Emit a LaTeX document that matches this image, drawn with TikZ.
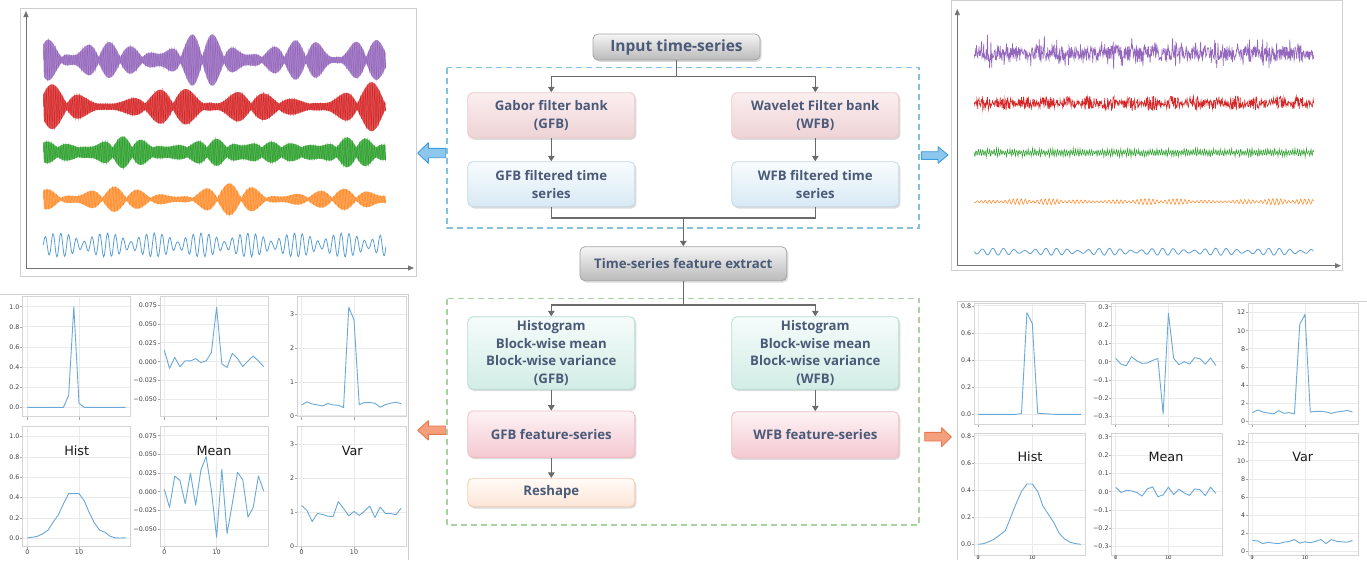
\documentclass[tikz,border=0pt]{standalone}
\usepackage{fontspec}
\setmainfont{Open Sans}
\newfontfamily\tickfont{DejaVu Sans}
\usetikzlibrary{arrows.meta,shadows}
\definecolor{txt}{HTML}{4A5A78}
\definecolor{connc}{HTML}{6A6A6A}
\definecolor{tpurple}{HTML}{9467BD}
\definecolor{tred}{HTML}{D62728}
\definecolor{tgreen}{HTML}{2CA02C}
\definecolor{torange}{HTML}{FF8C2A}
\definecolor{tblue}{HTML}{5A9FD4}
\definecolor{dlinec}{HTML}{6AA8D8}
\definecolor{gridc}{HTML}{EAEAEA}
\definecolor{framec}{HTML}{D4D4D4}
\definecolor{panelc}{HTML}{CFCFCF}
\definecolor{axisc}{HTML}{747474}
\definecolor{dashblue}{HTML}{86C1DB}
\definecolor{dashgreen}{HTML}{A9D4A2}
\definecolor{barrowfill}{HTML}{8EC7EE}
\definecolor{barrowdraw}{HTML}{3D9CDB}
\definecolor{oarrowfill}{HTML}{F5A07C}
\definecolor{oarrowdraw}{HTML}{E8764A}
\newcommand\splot[9]{%
  \draw[grid] (#5,#2) -- (#5,#4);
  \draw[grid] ({#5+10*#6},#2) -- ({#5+10*#6},#4);
  \draw[tickm] (#5,#4) -- ++(0,3);
  \draw[tickm] ({#5+10*#6},#4) -- ++(0,3);
  \foreach \v/\l in {#9}{
    \draw[grid] (#1,{#7-(\v)*#8}) -- (#3,{#7-(\v)*#8});
    \draw[tickm] (#1,{#7-(\v)*#8}) -- ++(-2.5,0);
    \node[tlab, anchor=east] at (#1-3,{#7-(\v)*#8}) {\l};
  }
  \draw[frame] (#1,#2) rectangle (#3,#4);
  \gdef\cX{#5}\gdef\cS{#6}\gdef\cY{#7}\gdef\cT{#8}%
}
\newcommand\sline[1]{\begin{scope}[shift={(\cX,\cY)},x=\cS pt,y=\cT pt]\draw[dline] plot coordinates {#1};\end{scope}}
% modulated wave: #1 colour, #2 centre y, #3 envelope expression in \t, #4 carrier cycles
\newcommand\modwave[4]{%
  \fill[#1!78] plot[domain=0:1, samples=400, variable=\t] ({43.3+342.7*\t},{#2-#3})
     -- plot[domain=1:0, samples=400, variable=\t] ({43.3+342.7*\t},{#2+#3}) -- cycle;
  \draw[#1, line width=0.5pt] plot[domain=0:1, samples=1400, variable=\t]
     ({43.3+342.7*\t},{#2-#3*sin(360*frac(#4*\t))});
}
\begin{document}
\begin{tikzpicture}[x=1pt,y=-1pt,
  box/.style={rounded corners=5pt, line width=0.8pt, align=center, text=txt,
    font=\bfseries\fontsize{13.2}{17.8}\selectfont, minimum width=167pt, inner sep=0pt,
    drop shadow={opacity=0.28, shadow xshift=1.6pt, shadow yshift=-1.8pt}},
  greybox/.style={box, draw=black!35, top color=black!4, bottom color=black!27},
  pinkbox/.style={box, draw={rgb,255:red,235;green,200;blue,204}, top color={rgb,255:red,251;green,238;blue,239}, bottom color={rgb,255:red,238;green,211;blue,214}},
  bluebox/.style={box, draw={rgb,255:red,194;green,218;blue,233}, top color={rgb,255:red,248;green,252;blue,254}, bottom color={rgb,255:red,216;green,233;blue,244}},
  tealbox/.style={box, draw={rgb,255:red,180;green,220;blue,211}, top color={rgb,255:red,245;green,252;blue,250}, bottom color={rgb,255:red,210;green,237;blue,230}},
  rosebox/.style={box, draw={rgb,255:red,240;green,188;blue,198}, top color={rgb,255:red,253;green,243;blue,245}, bottom color={rgb,255:red,244;green,200;blue,209}},
  peachbox/.style={box, draw={rgb,255:red,246;green,205;blue,176}, top color={rgb,255:red,255;green,251;blue,247}, bottom color={rgb,255:red,252;green,229;blue,214}},
  conn/.style={draw=connc, line width=1.5pt},
  arr/.style={conn, -{Triangle[length=5.5pt,width=6.5pt]}},
  panel/.style={draw=panelc, line width=0.8pt},
  axisl/.style={draw=axisc, line width=1pt, -{Triangle[length=6pt,width=5pt]}},
  grid/.style={draw=gridc, line width=0.7pt},
  tickm/.style={draw=black!35, line width=0.5pt},
  frame/.style={draw=framec, line width=0.8pt},
  dline/.style={draw=dlinec, line width=0.9pt, line join=round},
  tlab/.style={font=\tickfont\fontsize{6.3}{7}\selectfont, text=black!75, inner sep=0pt},
  big/.style={font=\tickfont\fontsize{12.8}{14}\selectfont, text=black!90, inner sep=0pt},
  wave/.style={line width=0.55pt},
  barrow/.style={fill=barrowfill, draw=barrowdraw, line width=0.9pt, line join=round},
  oarrow/.style={fill=oarrowfill, draw=oarrowdraw, line width=0.9pt, line join=round}
]
\useasboundingbox (0,0) rectangle (1367,560);
\fill[white] (0,0) rectangle (1367,560);

% ---------- top-left panel ----------
\draw[panel] (20.7,8.3) rectangle (416,276);
\draw[axisl] (26,268) -- (26,11);
\draw[axisl] (26,268) -- (414,268);
\modwave{tpurple}{60}{(28*(0.1+0.9*abs(0.6*sin(2300*\t+15)+0.4*sin(3700*\t+80))*(0.75+0.25*sin(900*\t+40))))}{150}
\modwave{tred}{106.7}{(25*(0.12+0.88*abs(0.6*sin(1750*\t+40)+0.4*sin(2900*\t+10))*(0.65+0.35*sin(700*\t+120))))}{145}
\modwave{tgreen}{152.3}{(16*(0.3+0.7*abs(0.6*sin(2500*\t+60)+0.4*sin(4100*\t+30))*(0.7+0.3*sin(1100*\t+200))))}{140}
\modwave{torange}{199.3}{(16*(0.08+0.92*abs(0.6*sin(2100*\t+30)+0.4*sin(3300*\t+100))*(0.75+0.25*sin(800*\t))))}{110}
\draw[wave, tblue, line width=0.8pt] plot[domain=0:1, samples=500, smooth, variable=\t]
  ({43.3+342.7*\t}, {245 - 12*(0.25+0.75*abs(sin(1300*\t+30)))*sin(360*frac(44*\t))});

% ---------- top-right panel ----------
\draw[panel] (951.7,0.5) rectangle (1342,270.7);
\draw[axisl] (957.3,265.7) -- (957.3,9);
\draw[axisl] (957.3,265.7) -- (1341,265.7);
\pgfmathsetseed{7}
\draw[wave, tpurple, line width=0.65pt] plot[domain=0:1, samples=800, variable=\t]
  ({974.3+339.4*\t}, {53.3 + 7*rand + 18*rand*rand*rand});
\draw[wave, tred, line width=0.6pt] plot[domain=0:1, samples=800, variable=\t]
  ({974.3+339.4*\t}, {103.3 + (2.5+5*abs(sin(2900*\t+10)))*rand});
\draw[wave, tgreen] plot[domain=0:1, samples=800, variable=\t]
  ({974.3+339.4*\t}, {152.7 + (1+3.5*abs(rand))*sin(360*frac(150*\t))});
\draw[wave, torange] plot[domain=0:1, samples=600, variable=\t]
  ({974.3+339.4*\t}, {201.7 + (0.8+2.5*abs(sin(1900*\t+30))*abs(sin(500*\t)))*sin(360*frac(85*\t))});
\draw[wave, tblue, line width=0.8pt] plot[domain=0:1, samples=400, smooth, variable=\t]
  ({974.3+339.4*\t}, {251.7 + (1+2.5*abs(sin(1100*\t+20)))*sin(360*frac(32*\t))});

% ---------- dashed groups ----------
\draw[draw=dashblue, line width=1.4pt, dash pattern=on 6pt off 4pt] (447,67.7) rectangle (919,228);
\draw[draw=dashgreen, line width=1.4pt, dash pattern=on 6pt off 4pt] (447,298.7) rectangle (919,525);

% ---------- flowchart nodes ----------
\node[greybox, minimum width=167pt, minimum height=26pt, font=\bfseries\fontsize{15.5}{17}\selectfont] (inp) at (676.5,47) {Input time-series};
\node[pinkbox, minimum height=45.3pt] (gabor) at (551.3,115.3) {Gabor filter bank\\(GFB)};
\node[pinkbox, minimum height=45.3pt] (wave) at (815.3,115.3) {Wavelet Filter bank\\(WFB)};
\node[bluebox, minimum height=45pt] (gfbf) at (551.3,184.2) {GFB filtered time\\series};
\node[bluebox, minimum height=45pt] (wfbf) at (815.3,184.2) {WFB filtered time\\series};
\node[greybox, minimum width=206.7pt, minimum height=34pt] (tsfe) at (683.3,263.7) {Time-series feature extract};
\node[tealbox, minimum height=72.6pt] (histL) at (551.3,353) {Histogram\\Block-wise mean\\Block-wise variance\\(GFB)};
\node[tealbox, minimum height=72.6pt] (histR) at (815.3,353) {Histogram\\Block-wise mean\\Block-wise variance\\(WFB)};
\node[rosebox, minimum height=46.3pt] (gfbfs) at (551.3,434.2) {GFB feature-series};
\node[rosebox, minimum height=46.3pt] (wfbfs) at (815.3,434.8) {WFB feature-series};
\node[peachbox, minimum height=28.4pt] (reshape) at (551.3,492.5) {Reshape};

% ---------- connectors ----------
\coordinate (b1) at (676.5,76.7);
\coordinate (m1) at (683.3,218);
\coordinate (b2) at (683.3,305);
\draw[conn] (inp.south) -- (b1);
\draw[arr] (b1) -| (gabor.north);
\draw[arr] (b1) -| (wave.north);
\draw[arr] (gabor.south) -- (gfbf.north);
\draw[arr] (wave.south) -- (wfbf.north);
\draw[conn] (gfbf.south) |- (m1);
\draw[conn] (wfbf.south) |- (m1);
\draw[arr] (m1) -- (tsfe.north);
\draw[conn] (tsfe.south) -- (b2);
\draw[arr] (b2) -| (histL.north);
\draw[arr] (b2) -| (histR.north);
\draw[arr] (histL.south) -- (gfbfs.north);
\draw[arr] (histR.south) -- (wfbfs.north);
\draw[arr] (gfbfs.south) -- (reshape.north);

% ---------- block arrows ----------
\draw[barrow] (417.7,153) -- (428.3,142.7) -- (428.3,148.3) -- (445.7,148.3) -- (445.7,157.7) -- (428.3,157.7) -- (428.3,163.3) -- cycle;
\draw[barrow] (948,155) -- (938,146.7) -- (938,151.7) -- (921.3,151.7) -- (921.3,159.3) -- (938,159.3) -- (938,163.3) -- cycle;
\draw[oarrow] (417.7,430.3) -- (428.3,420.7) -- (428.3,426) -- (445.7,426) -- (445.7,434.3) -- (428.3,434.3) -- (428.3,440) -- cycle;
\draw[oarrow] (951.3,437) -- (941.5,427.7) -- (941.5,432.3) -- (924.7,432.3) -- (924.7,441) -- (941.5,441) -- (941.5,446.7) -- cycle;

% ---------- bottom-left plots ----------
\draw[panel] (0,294) -- (408.3,294) -- (408.3,560);
\splot{22.7}{296}{130}{416.7}{27.3}{5.17}{407.3}{100.6}{0/0.0,0.2/0.2,0.4/0.4,0.6/0.6,0.8/0.8,1/1.0}
\sline{(0,0)(1,0)(2,0)(3,0)(4,0)(5,0)(6,0)(7,0)(8,0.12)(9,1.0)(10,0.04)(11,0)(12,0)(13,0)(14,0)(15,0)(16,0)(17,0)(18,0)(19,0)}
\splot{160}{296}{268.3}{416.7}{164.3}{5.23}{361.7}{756}{0.075/0.075,0.05/0.050,0.025/0.025,0/0.000,-0.025/−0.025,-0.05/−0.050}
\sline{(0,0.0154)(1,-0.0088)(2,0.0057)(3,-0.0066)(4,0.0013)(5,0.001)(6,0.004)(7,-0.001)(8,0.001)(9,0.012)(10,0.072)(11,-0.003)(12,-0.0075)(13,0.011)(14,0.0044)(15,-0.0066)(16,0.001)(17,0.0075)(18,0.001)(19,-0.0066)}
\splot{297.3}{296}{406.7}{416.7}{301.7}{5.23}{415.7}{33.7}{0/0,1/1,2/2,3/3}
\sline{(0,0.32)(1,0.41)(2,0.35)(3,0.32)(4,0.29)(5,0.36)(6,0.32)(7,0.31)(8,0.24)(9,3.22)(10,2.84)(11,0.33)(12,0.39)(13,0.39)(14,0.37)(15,0.25)(16,0.33)(17,0.37)(18,0.4)(19,0.36)}
\splot{22.7}{426.7}{130}{546.7}{27.3}{5.17}{538.3}{101.7}{0/0.0,0.2/0.2,0.4/0.4,0.6/0.6,0.8/0.8,1/1.0}
\sline{(0,0.005)(1,0.01)(2,0.02)(3,0.045)(4,0.08)(5,0.16)(6,0.23)(7,0.34)(8,0.44)(9,0.44)(10,0.44)(11,0.37)(12,0.25)(13,0.15)(14,0.08)(15,0.06)(16,0.02)(17,0.005)(18,0.003)(19,0.005)}
\splot{160}{426.7}{268.3}{546.7}{164.3}{5.23}{491.7}{746.7}{0.075/0.075,0.05/0.050,0.025/0.025,0/0.000,-0.025/−0.025,-0.05/−0.050}
\sline{(0,0.003)(1,-0.021)(2,0.021)(3,0.015)(4,-0.016)(5,0.025)(6,-0.018)(7,0.029)(8,0.047)(9,0.002)(10,-0.061)(11,0.030)(12,-0.056)(13,-0.016)(14,0.026)(15,0.016)(16,-0.034)(17,-0.021)(18,0.021)(19,0.001)}
\splot{297.3}{426.7}{406.7}{546.7}{301.7}{5.23}{546}{33.9}{0/0,1/1,2/2,3/3}
\sline{(0,1.19)(1,1.05)(2,0.72)(3,0.96)(4,0.93)(5,0.88)(6,0.87)(7,1.31)(8,1.11)(9,0.89)(10,1.02)(11,0.9)(12,1.03)(13,1.18)(14,0.84)(15,1.15)(16,0.96)(17,0.96)(18,0.92)(19,1.11)}
\node[big] (lh) at (76.7,450.7) {Hist};
\node[big] (lm) at (214,450.7) {Mean};
\node[big] (lv) at (352.3,450.7) {Var};
\foreach \xx/\ll in {27.3/0,79/10,164.3/0,216.6/10,301.7/0,354/10}
  \node[tlab, anchor=north] at (\xx,549.5) {\ll};

% ---------- bottom-right plots ----------
\draw[panel] (1367,301.7) -- (957.3,301.7) -- (957.3,560);
\splot{974.3}{303.3}{1085}{424.3}{978.3}{5.4}{414.3}{135.6}{0/0.0,0.2/0.2,0.4/0.4,0.6/0.6,0.8/0.8}
\sline{(0,0)(1,0)(2,0)(3,0)(4,0)(5,0)(6,0)(7,0)(8,0.005)(9,0.75)(10,0.67)(11,0.008)(12,0.005)(13,0.003)(14,0)(15,0)(16,0)(17,0)(18,0)(19,0)}
\splot{1111.7}{303.3}{1222.3}{424.3}{1115.7}{5.27}{361.7}{183.3}{0.3/0.3,0.2/0.2,0.1/0.1,0/0.0,-0.1/−0.1,-0.2/−0.2,-0.3/−0.3}
\sline{(0,0.018)(1,-0.013)(2,-0.022)(3,0.027)(4,0.005)(5,-0.009)(6,-0.007)(7,0.007)(8,0.018)(9,-0.285)(10,0.264)(11,0.018)(12,-0.016)(13,0)(14,-0.013)(15,0.022)(16,0.016)(17,-0.013)(18,0.02)(19,-0.02)}
\splot{1248.3}{303.3}{1358.3}{424.3}{1252.3}{5.27}{421.3}{9.06}{0/0,2/2,4/4,6/6,8/8,10/10,12/12}
\sline{(0,0.96)(1,1.25)(2,1.03)(3,0.92)(4,0.81)(5,1.18)(6,0.88)(7,0.96)(8,0.81)(9,10.7)(10,11.8)(11,1.03)(12,1.1)(13,1.1)(14,1.03)(15,0.88)(16,1.03)(17,1.1)(18,1.2)(19,1.03)}
\splot{974.3}{433.3}{1085}{555.5}{978.3}{5.4}{544.3}{135.6}{0/0.0,0.2/0.2,0.4/0.4,0.6/0.6,0.8/0.8}
\sline{(0,0)(1,0.005)(2,0.02)(3,0.04)(4,0.07)(5,0.1)(6,0.2)(7,0.3)(8,0.39)(9,0.445)(10,0.445)(11,0.39)(12,0.28)(13,0.22)(14,0.16)(15,0.08)(16,0.04)(17,0.015)(18,0.005)(19,0)}
\splot{1111.7}{433.3}{1222.3}{555.5}{1115.7}{5.27}{491.7}{183.3}{0.3/0.3,0.2/0.2,0.1/0.1,0/0.0,-0.1/−0.1,-0.2/−0.2,-0.3/−0.3}
\sline{(0,0.024)(1,-0.004)(2,0.007)(3,0.005)(4,-0.004)(5,-0.024)(6,0.015)(7,0.027)(8,-0.027)(9,-0.018)(10,0.025)(11,-0.015)(12,0.013)(13,-0.007)(14,-0.02)(15,0.015)(16,0.011)(17,-0.022)(18,0.025)(19,-0.009)}
\splot{1248.3}{433.3}{1358.3}{555.5}{1252.3}{5.27}{551.3}{9.05}{0/0,2/2,4/4,6/6,8/8,10/10,12/12}
\sline{(0,1.2)(1,1.15)(2,0.85)(3,1.0)(4,0.9)(5,0.85)(6,1.0)(7,1.1)(8,1.3)(9,0.9)(10,1.05)(11,0.95)(12,1.1)(13,1.3)(14,0.85)(15,1.3)(16,1.1)(17,1.05)(18,1.0)(19,1.2)}
\node[big] (rh) at (1030,456.7) {Hist};
\node[big] (rm) at (1166,456.7) {Mean};
\node[big] (rv) at (1302.7,456.7) {Var};
\foreach \xx/\ll in {978.3/0,1032.3/10,1115.7/0,1168.4/10,1252.3/0,1305/10}
  \node[tlab, anchor=north, font=\tickfont\fontsize{5}{5}\selectfont] at (\xx,555.2) {\ll};
\end{tikzpicture}
\end{document}
